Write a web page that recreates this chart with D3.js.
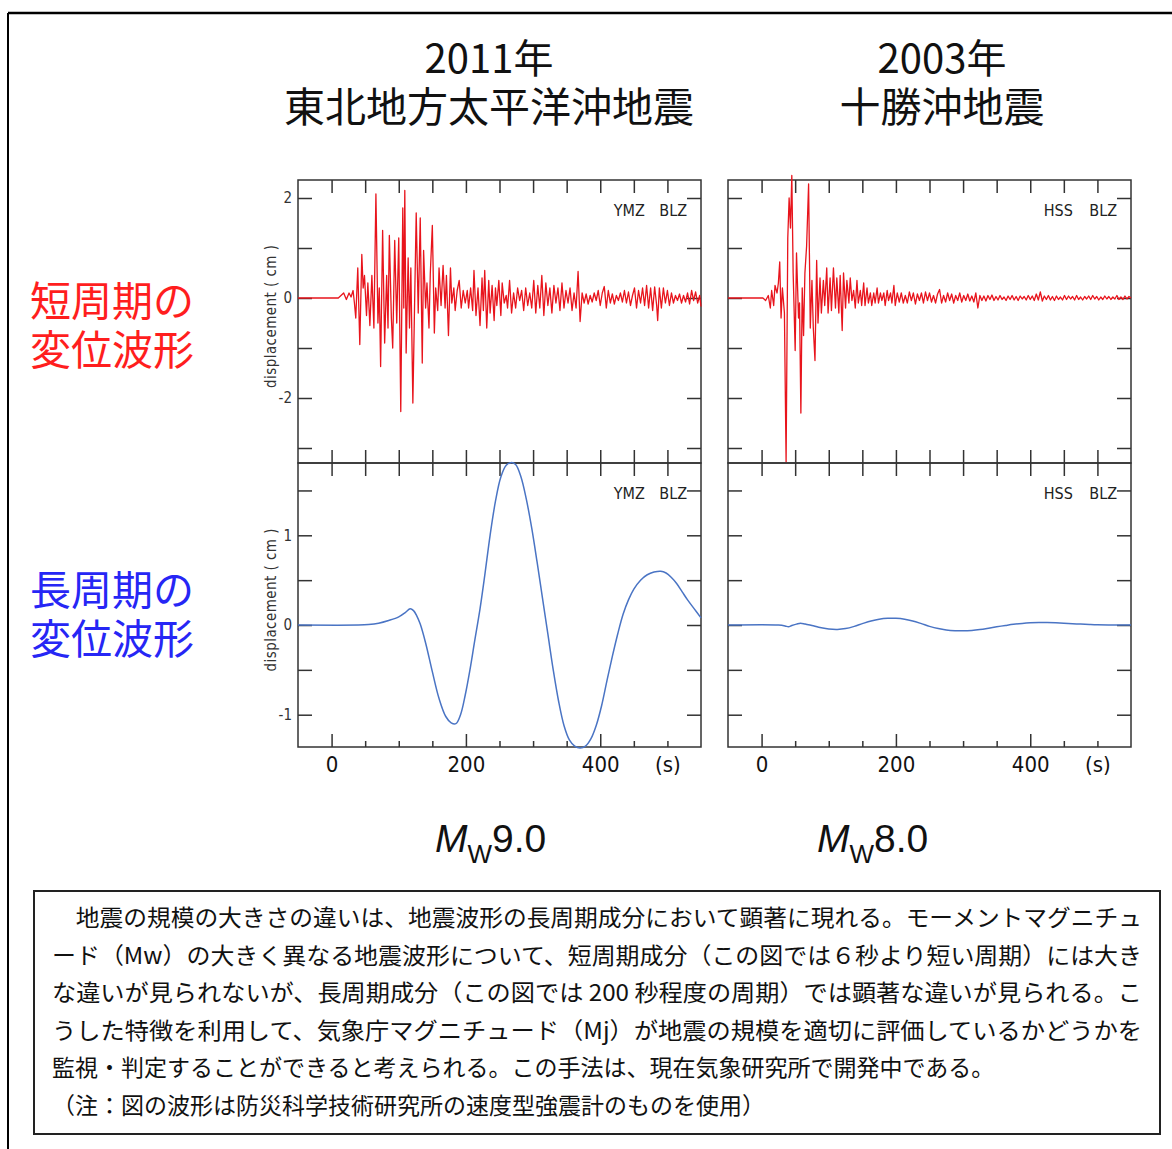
<!DOCTYPE html>
<html>
<head>
<meta charset="utf-8">
<script src="https://cdn.jsdelivr.net/npm/d3@7"></script>
<style>
  body { margin: 0; background: #fff; }
  svg { display: block; }
</style>
</head>
<body>
<div id="chart"></div>
<script>
// ---- data ----
const titleYears = ['2011年', '2003年'];
const titleNames = ['東北地方太平洋沖地震', '十勝沖地震'];
const rowLabels = [['短周期の', '変位波形'], ['長周期の', '変位波形']];
const stationNames = [['YMZ', 'BLZ'], ['HSS', 'BLZ']];
const magnitudes = ['9.0', '8.0'];

const timeDomain = [-50, 550];
const timeTicks = [0, 50, 100, 150, 200, 250, 300, 350, 400, 450, 500];
const timeMajor = [0, 200, 400];
const timeLabelValues = [0, 200, 400, 500];
const timeLabelTexts = ['0', '200', '400', '(s)'];

const shortDomain = [-3.3, 2.36];
const shortTicks = [-3, -2, -1, 0, 1, 2];
const shortLabels = [-2, 0, 2];
const longDomain = [-1.36, 1.806];
const longTicks = [-1, -0.5, 0, 0.5, 1, 1.5];
const longLabels = [-1, 0, 1];

// short period displacement (cm), [time s, value]
const shortTohoku = [
  [-50,0],[10,0],[14,0.05],[18,0.1],[22,-0.03],[26,0.1],[29,0.02],[32,0.15],[34,-0.1],[36,-0.4],
  [39,0.6],[42,-0.93],[45,0.87],[47,0.2],[49,0.45],[52,-0.35],[54,0.3],[57,-0.55],[60,0.45],[63,-0.6],
  [66,2.08],[69,-0.5],[71,0.2],[73,-1.37],[76,1.35],[79,-0.9],[82,0.45],[84,-0.6],[86,1.25],[89,-0.4],
  [91,-1.0],[94,1.15],[97,-0.5],[100,1.2],[103,-2.27],[106,1.8],[107.5,-0.2],[109,2.15],[111,-1.1],[114,0.8],
  [116,-0.6],[118,0.6],[121,-2.1],[124,0.2],[126,1.7],[129,-0.3],[132,1.6],[135,-1.3],[137,0.95],[140,-0.2],
  [142,0.3],[145,-0.6],[147,0.5],[150,1.45],[153,-0.7],[155,0.2],[158,-0.25],[160,0.6],[163,-0.15],[166,0.65],
  [169,-0.2],[171,0.45],[174,-0.75],[177,0.6],[179,-0.1],[182,0.2],[184,-0.25],[187,0.15],[190,0.35],[193,-0.2],
  [196,0.15],[199,-0.1],[202,0.15],[204,-0.2],[207,0.2],[210,-0.25],[212,0.55],[215,-0.35],[218,0.2],[221,-0.55],
  [224,0.4],[226,-0.25],[228,0.55],[231,-0.6],[234,0.35],[236,-0.3],[239,0.25],[242,-0.45],[244,0.2],[246,-0.15],
  [249,0.35],[252,-0.35],[254,0.3],[257,-0.1],[260,0.05],[262,-0.2],[265,0.35],[268,-0.3],[271,0.1],[274,-0.2],
  [277,0.2],[280,-0.05],[283,0.15],[286,-0.25],[289,0.2],[292,-0.15],[295,0.1],[298,-0.2],[301,0.35],[304,-0.3],
  [307,0.25],[310,-0.2],[313,0.45],[316,-0.35],[319,0.3],[322,-0.15],[325,0.2],[328,-0.3],[331,0.25],[334,-0.1],
  [337,0.2],[340,-0.25],[343,0.3],[346,-0.2],[349,0.15],[352,-0.1],[355,0.2],[358,-0.25],[361,0.1],[364,-0.2],
  [367,0.53],[370,-0.47],[373,0.1],[376,-0.1],[379,0.08],[382,-0.12],[385,0.05],[388,-0.08],[391,0.1],[394,-0.05],
  [397,0.15],[400,-0.15],[403,0.1],[406,0.23],[409,-0.2],[412,0.15],[415,-0.1],[418,0.08],[421,-0.12],[424,0.05],
  [427,-0.05],[430,0.1],[433,-0.08],[436,0.15],[439,-0.1],[442,0.12],[445,-0.15],[448,0.05],[451,0.2],[454,-0.2],
  [457,0.15],[460,-0.1],[463,0.2],[466,-0.15],[469,0.25],[472,-0.2],[475,0.2],[478,-0.25],[481,0.22],[484,-0.15],
  [485.5,-0.45],[488,0.2],[491,-0.2],[494,0.2],[497,-0.1],[500,0.15],[503,-0.15],[506,0.1],[509,-0.1],[512,0.05],
  [515,-0.05],[518,0.08],[521,-0.1],[524,0.05],[527,-0.08],[530,0.1],[533,-0.12],[536,0.15],[539,-0.05],[542,0.12],
  [545,-0.1],[548,0.05],[550,-0.17]
];

const shortTokachi = [
  [-50,0],[2,0],[6,-0.05],[10,0.05],[13,-0.2],[15,0.15],[18,-0.15],[20,0.25],[23,0.1],[25,0.3],
  [27,0.72],[29,-0.4],[31,0.2],[34,-0.3],[36.5,-3.28],[39,1.2],[41,2.0],[43,1.4],[45,2.45],[47,0.5],
  [50,-1.05],[52,0.9],[55,-0.4],[56.5,-0.1],[58.5,-2.3],[60.5,0.2],[62.5,-0.75],[64.5,0.5],[67,1.03],[70,2.28],
  [72.5,-0.6],[75,0.35],[77,-0.6],[79.5,-1.25],[82,0.75],[84,-0.5],[87,0.4],[89,-0.3],[92,0.35],[94,-0.15],
  [97,0.6],[99,-0.3],[102,0.4],[104,-0.25],[107,0.6],[110,-0.2],[112,0.4],[115,-0.3],[117,0.45],[120,-0.65],
  [122,0.5],[125,-0.2],[127,0.35],[130,-0.1],[132,0.4],[134.5,-0.05],[137,0.15],[139.5,-0.2],[142,0.35],[144,-0.1],
  [147,0.15],[149,-0.15],[152,0.3],[154,-0.15],[157,0.2],[159,-0.1],[162,0.1],[164,-0.15],[167,0.1],[169,-0.1],
  [172,0.2],[174,-0.1],[177,0.1],[179,-0.05],[182,0.1],[184,-0.15],[187,0.15],[189,-0.05],[192,0.1],[194,-0.1],
  [197,0.25],[199,-0.15],[202,0.1],[205,-0.08],[208,0.1],[211,-0.1],[214,0.05],[217,-0.1],[220,0.12],[223,-0.05],
  [226,0.1],[229,-0.12],[232,0.08],[235,-0.05],[238,0.1],[241,-0.1],[244,0.12],[247,-0.05],[250,0.1],[253,-0.08],
  [256,0.05],[259,-0.1],[262,0.08],[265,0.17],[268,-0.1],[271,0.05],[274,-0.08],[277,0.1],[280,-0.05],[283,0.08],
  [286,-0.1],[289,0.05],[292,-0.05],[295,0.1],[298,-0.08],[301,0.05],[304,-0.05],[307,0.08],[310,-0.06],[313,0.04],
  [316,-0.08],[319,0.1],[322,-0.2],[325,0.05],[328,-0.05],[331,0.04],[334,-0.06],[337,0.05],[340,-0.03],[343,0.06],
  [346,-0.05],[349,0.03],[352,-0.04],[355,0.05],[358,-0.03],[361,0.02],[364,-0.05],[367,0.04],[370,-0.03],[373,0.05],
  [376,-0.04],[379,0.03],[382,-0.05],[385,0.04],[388,-0.02],[391,0.03],[394,-0.04],[397,0.05],[400,-0.03],[403,0.04],
  [406,-0.05],[409,0.08],[412,-0.04],[415,0.12],[418,-0.06],[421,0.04],[424,-0.03],[427,0.05],[430,-0.04],[433,0.03],
  [436,-0.05],[439,0.04],[442,-0.03],[445,0.02],[448,-0.04],[451,0.05],[454,-0.03],[457,0.04],[460,-0.02],[463,0.03],
  [466,-0.04],[469,0.05],[472,-0.03],[475,0.02],[478,-0.04],[481,0.03],[484,-0.02],[487,0.04],[490,-0.03],[493,0.05],
  [496,-0.02],[499,0.03],[502,-0.04],[505,0.02],[508,-0.03],[511,0.04],[514,-0.02],[517,0.03],[520,-0.03],[523,0.02],
  [526,-0.02],[529,0.05],[532,-0.03],[535,0.02],[538,-0.03],[541,0.04],[544,-0.02],[547,0.03],[550,0]
];

// long period displacement (cm)
const longTohoku = [
  [-50,0],[40,0],[55,0.005],[70,0.02],[85,0.05],[100,0.09],[110,0.14],[117,0.18],[122,0.16],[127,0.1],
  [132,0.01],[140,-0.2],[150,-0.52],[160,-0.82],[170,-1.02],[178,-1.09],[185,-1.1],[192,-1.0],[199,-0.78],[206,-0.5],
  [213,-0.18],[221,0.18],[228,0.55],[236,1.0],[244,1.38],[252,1.65],[260,1.78],[267,1.81],[274,1.79],[282,1.65],
  [290,1.4],[298,1.08],[306,0.7],[314,0.3],[322,-0.1],[330,-0.5],[338,-0.85],[346,-1.12],[354,-1.28],[362,-1.35],
  [370,-1.37],[378,-1.35],[386,-1.27],[394,-1.12],[402,-0.9],[410,-0.62],[418,-0.35],[426,-0.1],[434,0.12],[442,0.28],
  [450,0.4],[460,0.5],[470,0.56],[480,0.59],[490,0.6],[498,0.58],[506,0.53],[514,0.46],[522,0.37],[530,0.28],
  [540,0.18],[550,0.08]
];

const longTokachi = [
  [-50,0],[25,0],[35,-0.01],[40,-0.02],[45,-0.005],[52,0.01],[58,0.02],[65,0.01],[75,-0.005],[85,-0.025],
  [100,-0.045],[113,-0.05],[125,-0.04],[138,-0.015],[150,0.015],[163,0.045],[175,0.065],[188,0.075],[200,0.075],[213,0.065],
  [225,0.045],[238,0.015],[250,-0.015],[263,-0.04],[275,-0.055],[288,-0.063],[300,-0.065],[313,-0.06],[325,-0.05],[338,-0.035],
  [350,-0.02],[363,-0.005],[375,0.008],[388,0.018],[400,0.024],[413,0.027],[425,0.027],[438,0.024],[450,0.02],[463,0.015],
  [475,0.01],[488,0.006],[500,0.003],[525,0],[550,0]
];

const noteLines = [
  '\u3000地震の規模の大きさの違いは、地震波形の長周期成分において顕著に現れる。モーメントマグニチュ',
  'ード（Mw）の大きく異なる地震波形について、短周期成分（この図では６秒より短い周期）には大き',
  'な違いが見られないが、長周期成分（この図では 200 秒程度の周期）では顕著な違いが見られる。こ',
  'うした特徴を利用して、気象庁マグニチュード（Mj）が地震の規模を適切に評価しているかどうかを',
  '監視・判定することができると考えられる。この手法は、現在気象研究所で開発中である。',
  '（注：図の波形は防災科学技術研究所の速度型強震計のものを使用）'
];

// ---- drawing ----
const W = 1172, H = 1149;
const cjk = '"Noto Sans CJK JP", "Noto Sans CJK SC", sans-serif';
const narrow = '"Liberation Sans Narrow", "DejaVu Sans Condensed", "Arial Narrow", sans-serif';
const frameColor = '#333';

const svg = d3.select('#chart').append('svg')
    .attr('width', W)
    .attr('height', H);

// outer page frame (top and left edges only)
svg.append('line').attr('x1', 8).attr('x2', W).attr('y1', 13).attr('y2', 13)
    .attr('stroke', '#000').attr('stroke-width', 2.5);
svg.append('line').attr('x1', 8).attr('x2', 8).attr('y1', 13).attr('y2', H)
    .attr('stroke', '#000').attr('stroke-width', 2);

const columns = [{ left: 298, right: 701, title: 489, mw: 435 },
                 { left: 728, right: 1131, title: 942, mw: 817 }];
const rows = [{ top: 180, bottom: 463 }, { top: 463, bottom: 747 }];

// titles: one text, two lines
columns.forEach(function(c, i) {
    const t = svg.append('text')
        .attr('text-anchor', 'middle').attr('dominant-baseline', 'central')
        .attr('font-family', cjk).attr('fill', '#111');
    t.append('tspan').attr('x', c.title).attr('y', 56).attr('font-size', 40).text(titleYears[i]);
    t.append('tspan').attr('x', c.title).attr('y', 104).attr('font-size', 41).text(titleNames[i]);
});

// row labels
const rowLabelColors = ['#ff1e1e', '#2626f5'];
const rowLabelY = [[298, 347], [587, 636]];
rowLabels.forEach(function(lines, r) {
    const t = svg.append('text')
        .attr('dominant-baseline', 'central')
        .attr('font-family', cjk).attr('font-size', 41)
        .attr('fill', rowLabelColors[r]);
    lines.forEach(function(s, k) {
        t.append('tspan').attr('x', 30).attr('y', rowLabelY[r][k]).text(s);
    });
});

function drawPanel(col, row, data, domain, yTicks, yLabels, color, curve, stations, showY, showX) {
    const x = d3.scaleLinear().domain(timeDomain).range([col.left, col.right]);
    const y = d3.scaleLinear().domain(domain).range([row.bottom, row.top]);
    const g = svg.append('g');

    g.append('rect')
        .attr('x', col.left).attr('y', row.top)
        .attr('width', col.right - col.left).attr('height', row.bottom - row.top)
        .attr('fill', 'none').attr('stroke', frameColor).attr('stroke-width', 1.5);

    function ticks(axis, tx, ty) {
        const a = g.append('g').attr('transform', 'translate(' + tx + ',' + ty + ')').call(axis);
        a.select('.domain').remove();
        a.selectAll('line').attr('stroke', frameColor).attr('stroke-width', 1.5);
        return a;
    }
    // inward ticks on all four edges
    ticks(d3.axisLeft(y).tickValues(yTicks).tickSize(-14).tickFormat(''), col.left, 0);
    ticks(d3.axisRight(y).tickValues(yTicks).tickSize(-14).tickFormat(''), col.right, 0);
    ticks(d3.axisTop(x).tickValues(timeTicks).tickSize(-13).tickFormat(''), 0, row.top);
    if (showX) {
        ticks(d3.axisBottom(x).tickValues(timeMajor).tickSize(-13).tickFormat(''), 0, row.bottom);
        ticks(d3.axisBottom(x).tickValues(timeTicks.filter(t => timeMajor.indexOf(t) < 0))
            .tickSize(-6).tickFormat(''), 0, row.bottom);
    } else {
        ticks(d3.axisBottom(x).tickValues(timeTicks).tickSize(-13).tickFormat(''), 0, row.bottom);
    }

    if (showY) {
        const yl = g.append('g').attr('transform', 'translate(' + col.left + ',0)')
            .call(d3.axisLeft(y).tickValues(yLabels).tickFormat(d3.format('d'))
                .tickSize(0).tickPadding(6));
        yl.select('.domain').remove();
        yl.attr('font-family', narrow).attr('font-size', 15);
        yl.selectAll('text').attr('fill', '#333').text(d => d < 0 ? '-' + Math.abs(d) : d);

        g.append('text')
            .attr('transform', 'translate(271,' + ((row.top + row.bottom) / 2 - 5) + ') rotate(-90)')
            .attr('text-anchor', 'middle').attr('dominant-baseline', 'central')
            .attr('font-family', narrow).attr('font-size', 15).attr('fill', '#333')
            .attr('textLength', 143).attr('lengthAdjust', 'spacing')
            .text('displacement ( cm )');
    }

    if (showX) {
        const xl = g.append('g').attr('transform', 'translate(0,' + row.bottom + ')')
            .call(d3.axisBottom(x).tickValues(timeLabelValues)
                .tickFormat((d, i) => timeLabelTexts[i]).tickSize(0).tickPadding(9));
        xl.select('.domain').remove();
        xl.attr('font-family', narrow).attr('font-size', 22);
        xl.selectAll('text').attr('fill', '#111');
    }

    // station codes, top right
    const sy = row.top + 30;
    g.append('text').attr('x', x(420)).attr('y', sy)
        .attr('dominant-baseline', 'central')
        .attr('font-family', narrow).attr('font-size', 16).attr('fill', '#222')
        .text(stations[0]);
    g.append('text').attr('x', x(488)).attr('y', sy)
        .attr('dominant-baseline', 'central')
        .attr('font-family', narrow).attr('font-size', 16).attr('fill', '#222')
        .text(stations[1]);

    const line = d3.line()
        .x(d => x(d[0]))
        .y(d => y(d[1]))
        .curve(curve);
    g.append('path').datum(data)
        .attr('fill', 'none')
        .attr('stroke', color)
        .attr('stroke-width', color === red ? 1.3 : 1.5)
        .attr('stroke-linejoin', 'round')
        .attr('d', line);
}

const red = '#e8141c', blue = '#4a74c4';
drawPanel(columns[0], rows[0], shortTohoku, shortDomain, shortTicks, shortLabels, red, d3.curveLinear, stationNames[0], true, false);
drawPanel(columns[1], rows[0], shortTokachi, shortDomain, shortTicks, shortLabels, red, d3.curveLinear, stationNames[1], false, false);
drawPanel(columns[0], rows[1], longTohoku, longDomain, longTicks, longLabels, blue, d3.curveCatmullRom, stationNames[0], true, true);
drawPanel(columns[1], rows[1], longTokachi, longDomain, longTicks, longLabels, blue, d3.curveCatmullRom, stationNames[1], false, true);

// moment magnitude labels
columns.forEach(function(c, i) {
    const t = svg.append('text')
        .attr('x', c.mw).attr('y', 852)
        .attr('font-family', '"Liberation Sans", Arial, sans-serif')
        .attr('font-size', 39).attr('fill', '#111');
    t.append('tspan').attr('font-style', 'italic').text('M');
    t.append('tspan').attr('font-size', 26).attr('dy', 11).text('W');
    t.append('tspan').attr('dy', -11).text(magnitudes[i]);
});

// explanatory note box
svg.append('rect')
    .attr('x', 34).attr('y', 891).attr('width', 1126).attr('height', 243)
    .attr('fill', 'none').attr('stroke', '#222').attr('stroke-width', 2);

noteLines.forEach(function(s, i) {
    const t = svg.append('text')
        .attr('x', 52).attr('y', 916 + i * 37.5)
        .attr('dominant-baseline', 'central')
        .attr('font-family', cjk).attr('font-size', 23).attr('fill', '#111')
        .text(s);
    if (i < 4) t.attr('textLength', 1090).attr('lengthAdjust', 'spacingAndGlyphs');
});
</script>
</body>
</html>
